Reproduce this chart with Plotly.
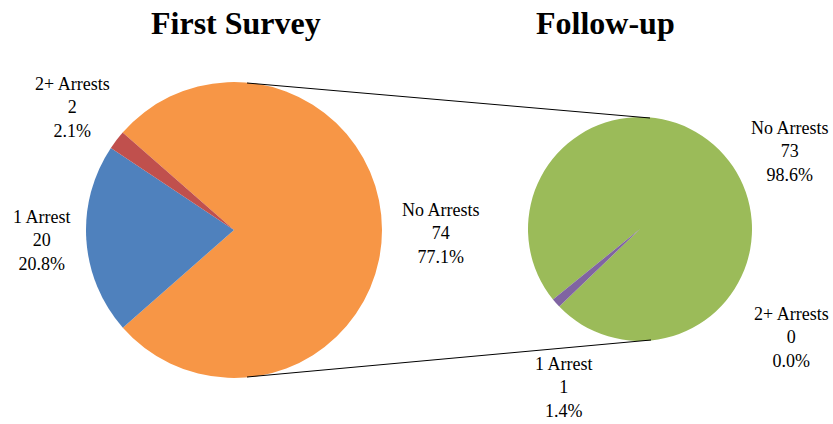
import plotly.graph_objects as go

# Data
categories = ["No Arrests", "1 Arrest", "2+ Arrests"]
first_survey = [74, 20, 2]
follow_up = [73, 1, 0]
first_colors = ["#F79646", "#4F81BD", "#C0504D"]
follow_colors = ["#9BBB59", "#8064A2", "#4BACC6"]
titles = ["First Survey", "Follow-up"]

W, H = 833, 424

def px(x):
    return x / W

def py(y):
    return 1 - y / H

fig = go.Figure()

fig.add_trace(go.Pie(
    labels=categories, values=first_survey, sort=False, direction="clockwise",
    rotation=-48.8, marker=dict(colors=first_colors, line=dict(width=0)),
    textinfo="none", hoverinfo="label+value+percent", showlegend=False,
    domain=dict(x=[px(234 - 148), px(234 + 148)], y=[py(230 + 148), py(230 - 148)]),
))

fig.add_trace(go.Pie(
    labels=categories, values=follow_up, sort=False, direction="clockwise",
    rotation=-129, marker=dict(colors=follow_colors, line=dict(width=0)),
    textinfo="none", hoverinfo="label+value+percent", showlegend=False,
    domain=dict(x=[px(640 - 112), px(640 + 112)], y=[py(229 + 112), py(229 - 112)]),
))

font_lbl = dict(family="Liberation Serif", size=18, color="#000000")

def pct(vals, i):
    return 100.0 * vals[i] / sum(vals)

# label positions (center x, middle-line y) in pixels
first_pos = [(441, 233), (42, 240), (72, 107)]
follow_pos = [(790, 152), (564, 387), (791, 337)]

annotations = []
for vals, positions in [(first_survey, first_pos), (follow_up, follow_pos)]:
    for i, cat in enumerate(categories):
        x, y = positions[i]
        annotations.append(dict(
            x=px(x), y=py(y), xref="paper", yref="paper",
            text=f"{cat}<br>{vals[i]}<br>{pct(vals, i):.1f}%",
            showarrow=False, xanchor="center", yanchor="middle",
            align="center", font=font_lbl,
        ))

title_font = dict(family="Liberation Serif", size=32, color="#000000")
for t, x in zip(titles, [236, 605]):
    annotations.append(dict(
        x=px(x), y=py(23), xref="paper", yref="paper", text=f"<b>{t}</b>",
        showarrow=False, xanchor="center", yanchor="middle", font=title_font,
    ))

shapes = [
    dict(type="line", xref="paper", yref="paper", x0=px(247), y0=py(83), x1=px(650), y1=py(118),
         line=dict(color="#000000", width=1)),
    dict(type="line", xref="paper", yref="paper", x0=px(247), y0=py(377), x1=px(651), y1=py(340),
         line=dict(color="#000000", width=1)),
]

fig.update_layout(
    width=W, height=H, margin=dict(l=0, r=0, t=0, b=0),
    paper_bgcolor="white", plot_bgcolor="white",
    annotations=annotations, shapes=shapes,
)

fig.write_html("out.html", config={"displayModeBar": False},
               post_script="document.body.style.margin='0';")
